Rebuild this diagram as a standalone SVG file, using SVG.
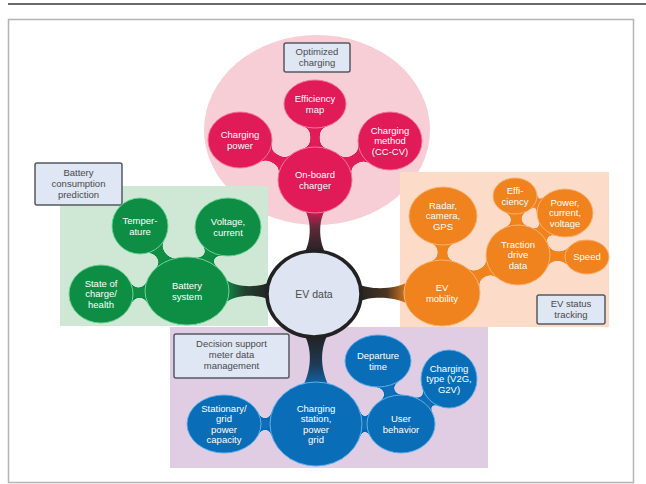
<svg xmlns="http://www.w3.org/2000/svg" width="646" height="484" viewBox="0 0 646 484">
  <defs>
    <style>
      .t { font-family: "Liberation Sans", "Open Sans", Arial, sans-serif; font-size: 9.5px; text-anchor: middle; fill: #ffffff; }
      .lt { font-family: "Liberation Sans", "Open Sans", Arial, sans-serif; font-size: 9.5px; text-anchor: middle; fill: #4a4a4a; }
      .lbl { fill: #dfe6f4; stroke: #555a60; stroke-width: 1.5; }
      .red { fill: #e11a58; stroke: #f2789c; stroke-width: 1; }
      .grn { fill: #0e8d45; stroke: #6fd495; stroke-width: 1; }
      .org { fill: #f0831e; stroke: #f9b373; stroke-width: 1; }
      .blu { fill: #0a6db8; stroke: #5fb0ea; stroke-width: 1; }
      .neck { stroke-width: 9; stroke-linecap: round; }
    </style>
    <!-- soft "gooey" merge so necks fillet into the bubbles -->
    <filter id="goo" x="-10%" y="-10%" width="120%" height="120%">
      <feGaussianBlur in="SourceGraphic" stdDeviation="4" result="b"/>
      <feColorMatrix in="b" type="matrix" values="1 0 0 0 0  0 1 0 0 0  0 0 1 0 0  0 0 0 20 -9"/>
    </filter>
    <linearGradient id="gTop" gradientUnits="userSpaceOnUse" x1="0" y1="208" x2="0" y2="254">
      <stop offset="0" stop-color="#e11a58"/>
      <stop offset="0.45" stop-color="#5a2a38"/>
      <stop offset="1" stop-color="#222222"/>
    </linearGradient>
    <linearGradient id="gLeft" gradientUnits="userSpaceOnUse" x1="225" y1="0" x2="270" y2="0">
      <stop offset="0" stop-color="#0e8d45"/>
      <stop offset="0.45" stop-color="#23402f"/>
      <stop offset="1" stop-color="#222222"/>
    </linearGradient>
    <linearGradient id="gRight" gradientUnits="userSpaceOnUse" x1="358" y1="0" x2="410" y2="0">
      <stop offset="0" stop-color="#222222"/>
      <stop offset="0.55" stop-color="#4a3522"/>
      <stop offset="1" stop-color="#f0831e"/>
    </linearGradient>
    <linearGradient id="gBot" gradientUnits="userSpaceOnUse" x1="0" y1="336" x2="0" y2="388">
      <stop offset="0" stop-color="#222222"/>
      <stop offset="0.55" stop-color="#1f3a55"/>
      <stop offset="1" stop-color="#0a6db8"/>
    </linearGradient>
  </defs>

  <rect x="0" y="0" width="646" height="484" fill="#ffffff"/>
  <!-- page rule and frame -->
  <line x1="8" y1="4" x2="646" y2="4" stroke="#6a6a6a" stroke-width="2"/>
  <rect x="8.5" y="19.5" width="625" height="463" fill="#ffffff" stroke="#b4b4b4" stroke-width="1.5"/>

  <!-- cluster backgrounds -->
  <g id="backgrounds">
    <ellipse cx="317" cy="130" rx="113" ry="95" fill="#f7cdd6"/>
    <rect x="60" y="186" width="208" height="140" fill="#cfe8d6"/>
    <rect x="400" y="172" width="209" height="155" fill="#fcdcc8"/>
    <rect x="170" y="327" width="318" height="141" fill="#e0cce3"/>
  </g>

  <!-- connectors: filleted necks inside each cluster and stems to the hub -->
  <g id="connectors">
    <g filter="url(#goo)" fill="#e11a58" stroke="#e11a58">
      <line class="neck" x1="315" y1="104" x2="315" y2="180"/>
      <line class="neck" x1="240" y1="140" x2="315" y2="180"/>
      <line class="neck" x1="390" y1="141" x2="315" y2="180"/>
      <ellipse cx="315" cy="104" rx="31" ry="24" stroke="none"/>
      <ellipse cx="240" cy="140" rx="32" ry="28" stroke="none"/>
      <ellipse cx="390" cy="141" rx="32" ry="29" stroke="none"/>
      <ellipse cx="315" cy="180" rx="37" ry="33" stroke="none"/>
    </g>
    <g filter="url(#goo)" fill="#0e8d45" stroke="#0e8d45">
      <line class="neck" x1="140" y1="226" x2="187" y2="291"/>
      <line class="neck" x1="228" y1="227" x2="187" y2="291"/>
      <line class="neck" x1="101" y1="294" x2="187" y2="291"/>
      <ellipse cx="140" cy="226" rx="28" ry="28" stroke="none"/>
      <ellipse cx="228" cy="227" rx="33" ry="29" stroke="none"/>
      <ellipse cx="101" cy="294" rx="32" ry="29" stroke="none"/>
      <ellipse cx="187" cy="291" rx="42" ry="34" stroke="none"/>
    </g>
    <g filter="url(#goo)" fill="#f0831e" stroke="#f0831e">
      <line class="neck" x1="443" y1="216" x2="442" y2="293"/>
      <line class="neck" x1="442" y1="293" x2="518" y2="255"/>
      <line class="neck" x1="518" y1="255" x2="515" y2="196"/>
      <line class="neck" x1="518" y1="255" x2="565" y2="213"/>
      <line class="neck" x1="518" y1="255" x2="587" y2="257"/>
      <ellipse cx="443" cy="216" rx="34" ry="29" stroke="none"/>
      <ellipse cx="515" cy="196" rx="22" ry="18" stroke="none"/>
      <ellipse cx="565" cy="213" rx="28" ry="24" stroke="none"/>
      <ellipse cx="518" cy="255" rx="32" ry="30" stroke="none"/>
      <ellipse cx="587" cy="257" rx="22" ry="17" stroke="none"/>
      <ellipse cx="442" cy="293" rx="38" ry="33" stroke="none"/>
    </g>
    <g filter="url(#goo)" fill="#0a6db8" stroke="#0a6db8">
      <line class="neck" x1="378" y1="361" x2="401" y2="424"/>
      <line class="neck" x1="449" y1="379" x2="401" y2="424"/>
      <line class="neck" x1="401" y1="424" x2="316" y2="424"/>
      <line class="neck" x1="224" y1="424" x2="316" y2="424"/>
      <ellipse cx="224" cy="424" rx="37" ry="29" stroke="none"/>
      <ellipse cx="316" cy="424" rx="46" ry="42" stroke="none"/>
      <ellipse cx="378" cy="361" rx="33" ry="26" stroke="none"/>
      <ellipse cx="449" cy="379" rx="28" ry="29" stroke="none"/>
      <ellipse cx="401" cy="424" rx="34" ry="29" stroke="none"/>
    </g>

    <path d="M302,206 C312,217 312,240 304,254 L326,254 C318,240 318,217 328,206 Z" fill="url(#gTop)"/>
    <path d="M225,279 C236,288 258,288 270,282 L270,300 C258,294 236,294 225,303 Z" fill="url(#gLeft)"/>
    <path d="M358,284 C370,290 395,290 410,281 L410,305 C395,296 370,296 358,302 Z" fill="url(#gRight)"/>
    <path d="M305,336 C312,350 312,370 302,388 L330,388 C320,370 320,350 327,336 Z" fill="url(#gBot)"/>
  </g>

  <!-- on-board charger cluster -->
  <g id="optimized-charging">
    <rect class="lbl" x="284" y="43" width="66" height="29" rx="2"/>
    <text class="lt"><tspan x="317" y="55">Optimized</tspan><tspan x="317" y="66">charging</tspan></text>
  </g>
  <g id="efficiency-map">
    <ellipse class="red" cx="315" cy="104" rx="31" ry="24"/>
    <text class="t"><tspan x="315" y="102">Efficiency</tspan><tspan x="315" y="112.5">map</tspan></text>
  </g>
  <g id="charging-power">
    <ellipse class="red" cx="240" cy="140" rx="32" ry="28"/>
    <text class="t"><tspan x="240" y="138">Charging</tspan><tspan x="240" y="148.5">power</tspan></text>
  </g>
  <g id="charging-method">
    <ellipse class="red" cx="390" cy="141" rx="32" ry="29"/>
    <text class="t"><tspan x="390" y="133.8">Charging</tspan><tspan x="390" y="144.3">method</tspan><tspan x="390" y="154.8">(CC-CV)</tspan></text>
  </g>
  <g id="on-board-charger">
    <ellipse class="red" cx="315" cy="180" rx="37" ry="33"/>
    <text class="t"><tspan x="315" y="178">On-board</tspan><tspan x="315" y="188.5">charger</tspan></text>
  </g>

  <!-- battery cluster -->
  <g id="battery-consumption">
    <rect class="lbl" x="35" y="163" width="87" height="42" rx="2"/>
    <text class="lt"><tspan x="78.5" y="176">Battery</tspan><tspan x="78.5" y="187">consumption</tspan><tspan x="78.5" y="198">prediction</tspan></text>
  </g>
  <g id="temperature">
    <ellipse class="grn" cx="140" cy="226" rx="28" ry="28"/>
    <text class="t"><tspan x="140" y="224">Temper-</tspan><tspan x="140" y="234.5">ature</tspan></text>
  </g>
  <g id="voltage-current">
    <ellipse class="grn" cx="228" cy="227" rx="33" ry="29"/>
    <text class="t"><tspan x="228" y="225">Voltage,</tspan><tspan x="228" y="235.5">current</tspan></text>
  </g>
  <g id="state-of-charge">
    <ellipse class="grn" cx="101" cy="294" rx="32" ry="29"/>
    <text class="t"><tspan x="101" y="286.8">State of</tspan><tspan x="101" y="297.3">charge/</tspan><tspan x="101" y="307.8">health</tspan></text>
  </g>
  <g id="battery-system">
    <ellipse class="grn" cx="187" cy="291" rx="42" ry="34"/>
    <text class="t"><tspan x="187" y="289">Battery</tspan><tspan x="187" y="299.5">system</tspan></text>
  </g>

  <!-- mobility cluster -->
  <g id="radar-camera-gps">
    <ellipse class="org" cx="443" cy="216" rx="34" ry="29"/>
    <text class="t"><tspan x="443" y="208.8">Radar,</tspan><tspan x="443" y="219.3">camera,</tspan><tspan x="443" y="229.8">GPS</tspan></text>
  </g>
  <g id="efficiency">
    <ellipse class="org" cx="515" cy="196" rx="22" ry="18"/>
    <text class="t"><tspan x="515" y="194">Effi-</tspan><tspan x="515" y="204.5">ciency</tspan></text>
  </g>
  <g id="power-current-voltage">
    <ellipse class="org" cx="565" cy="213" rx="28" ry="24"/>
    <text class="t"><tspan x="565" y="205.8">Power,</tspan><tspan x="565" y="216.3">current,</tspan><tspan x="565" y="226.8">voltage</tspan></text>
  </g>
  <g id="traction-drive-data">
    <ellipse class="org" cx="518" cy="255" rx="32" ry="30"/>
    <text class="t"><tspan x="518" y="247.8">Traction</tspan><tspan x="518" y="258.3">drive</tspan><tspan x="518" y="268.8">data</tspan></text>
  </g>
  <g id="speed">
    <ellipse class="org" cx="587" cy="257" rx="22" ry="17"/>
    <text class="t"><tspan x="587" y="260.3">Speed</tspan></text>
  </g>
  <g id="ev-mobility">
    <ellipse class="org" cx="442" cy="293" rx="38" ry="33"/>
    <text class="t"><tspan x="442" y="291">EV</tspan><tspan x="442" y="301.5">mobility</tspan></text>
  </g>
  <g id="ev-status-tracking">
    <rect class="lbl" x="537" y="295" width="68" height="29" rx="2"/>
    <text class="lt"><tspan x="571" y="307">EV status</tspan><tspan x="571" y="318">tracking</tspan></text>
  </g>

  <!-- charging station cluster -->
  <g id="decision-support">
    <rect class="lbl" x="174" y="334" width="115" height="44" rx="2"/>
    <text class="lt"><tspan x="231.5" y="347">Decision support</tspan><tspan x="231.5" y="358">meter data</tspan><tspan x="231.5" y="369">management</tspan></text>
  </g>
  <g id="stationary-grid">
    <ellipse class="blu" cx="224" cy="424" rx="37" ry="29"/>
    <text class="t"><tspan x="224" y="411.5">Stationary/</tspan><tspan x="224" y="422">grid</tspan><tspan x="224" y="432.5">power</tspan><tspan x="224" y="443">capacity</tspan></text>
  </g>
  <g id="charging-station">
    <ellipse class="blu" cx="316" cy="424" rx="46" ry="42"/>
    <text class="t"><tspan x="316" y="411.5">Charging</tspan><tspan x="316" y="422">station,</tspan><tspan x="316" y="432.5">power</tspan><tspan x="316" y="443">grid</tspan></text>
  </g>
  <g id="departure-time">
    <ellipse class="blu" cx="378" cy="361" rx="33" ry="26"/>
    <text class="t"><tspan x="378" y="359">Departure</tspan><tspan x="378" y="369.5">time</tspan></text>
  </g>
  <g id="charging-type">
    <ellipse class="blu" cx="449" cy="379" rx="28" ry="29"/>
    <text class="t"><tspan x="449" y="371.8">Charging</tspan><tspan x="449" y="382.3">type (V2G,</tspan><tspan x="449" y="392.8">G2V)</tspan></text>
  </g>
  <g id="user-behavior">
    <ellipse class="blu" cx="401" cy="424" rx="34" ry="29"/>
    <text class="t"><tspan x="401" y="422">User</tspan><tspan x="401" y="432.5">behavior</tspan></text>
  </g>

  <!-- hub -->
  <g id="ev-data">
    <ellipse cx="314" cy="294" rx="47" ry="43" fill="#dfe4f3" stroke="#222222" stroke-width="3.5"/>
    <text class="lt" x="314" y="297.5" style="font-size:10.5px">EV data</text>
  </g>
</svg>
